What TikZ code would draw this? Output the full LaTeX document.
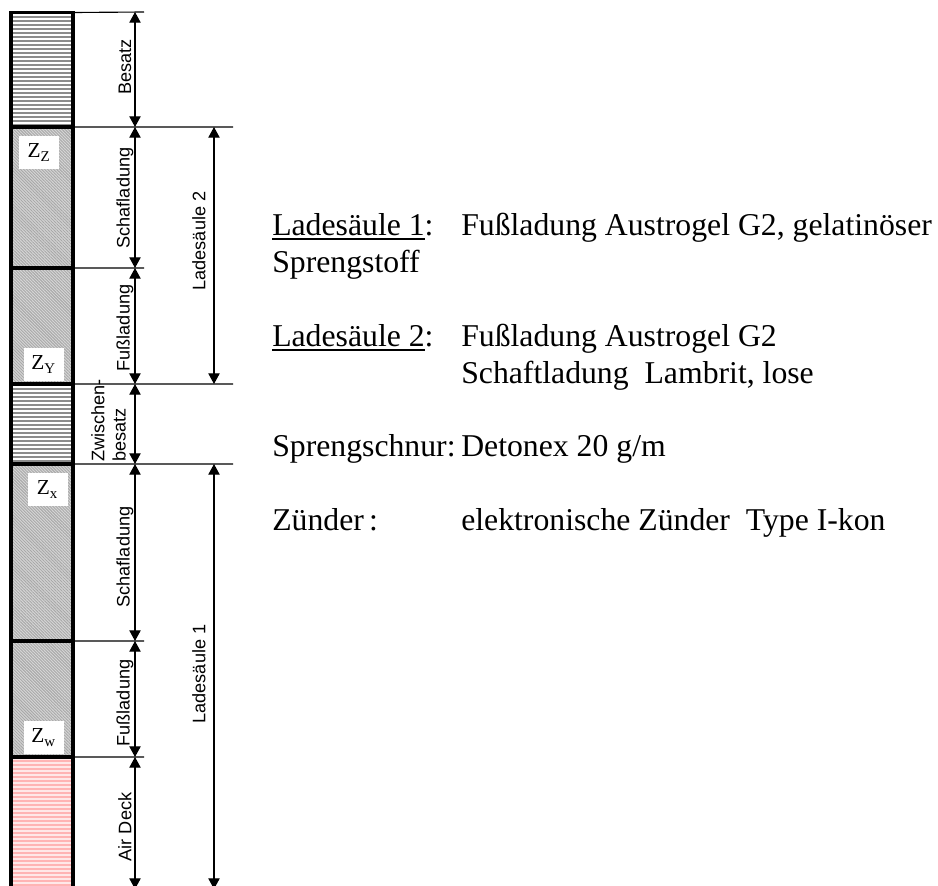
\documentclass[tikz,border=0pt]{standalone}
\usepackage{fontspec}
\setmainfont{Liberation Serif}
\setsansfont{Liberation Sans}
\usepackage{xcolor}
\usetikzlibrary{positioning, patterns.meta, arrows.meta}

\definecolor{stemgray}{gray}{0.55}
\definecolor{chargegray}{gray}{0.66}
\definecolor{chargelight}{gray}{0.84}
\definecolor{deckred}{RGB}{255,180,180}
\definecolor{decklight}{RGB}{255,232,232}

\newcommand{\legendline}[1]{\setbox0\hbox{#1}\rlap{\rule[-3.6pt]{\wd0}{1.4pt}}\box0}

\tikzset{
  segment/.style={draw, line width=2.4pt, rectangle, minimum width=46.5pt, outer sep=0pt, inner sep=0pt},
  stemming/.style={segment, pattern={Lines[angle=0, distance=3pt, line width=1.5pt]}, pattern color=stemgray},
  charge/.style={segment, preaction={fill=chargelight}, pattern={Lines[angle=-45, distance=1.6pt, line width=0.7pt]}, pattern color=chargegray},
  airdeck/.style={segment, preaction={fill=decklight}, pattern={Lines[angle=0, distance=3pt, line width=1.3pt]}, pattern color=deckred},
  detbox/.style={fill=white, inner sep=0pt, minimum width=30pt, minimum height=25pt, font=\fontsize{16}{18}\selectfont},
  extline/.style={line width=0.85pt},
  dim/.style={line width=0.85pt, {Triangle[length=8pt, width=8.5pt]}-{Triangle[length=8pt, width=8.5pt]}},
  dimlabel/.style={rotate=90, font=\sffamily\fontsize{13.6}{16}\selectfont, inner sep=0pt},
  legend/.style={anchor=base west, inner sep=0pt, font=\fontsize{23.8}{27}\selectfont}
}

\begin{document}
\begin{tikzpicture}[x=0.75pt, y=-0.75pt]
  \useasboundingbox (0,0) rectangle (938,885);

  \node[stemming, anchor=north west, minimum height=85.9pt] (besatz) at (11,12.5) {};
  \node[charge, below=0pt of besatz, minimum height=105.75pt] (schaftb) {};
  \node[charge, below=0pt of schaftb, minimum height=87pt] (fussb) {};
  \node[stemming, below=0pt of fussb, minimum height=60pt] (zwischen) {};
  \node[charge, below=0pt of zwischen, minimum height=132.75pt] (schafta) {};
  \node[charge, below=0pt of schafta, minimum height=87pt] (fussa) {};
  \node[airdeck, below=0pt of fussa, minimum height=100pt] (deck) {};

  \node[detbox] (zz) at (39,152.5) {Z\textsubscript{Z}};
  \node[detbox] (zy) at (43.5,364.5) {Z\textsubscript{Y}};
  \node[detbox] (zx) at (47.5,489.5) {Z\textsubscript{x}};
  \node[detbox] (zw) at (43.5,737.5) {Z\textsubscript{w}};

  % dimension ends
  \coordinate (e0) at (144,12);
  \coordinate (e1) at (233,127);
  \coordinate (e2) at (144,268);
  \coordinate (e3) at (233,384);
  \coordinate (e4) at (233,464);
  \coordinate (e5) at (144,641);
  \coordinate (e6) at (144,757);
  \coordinate (m0) at (135,12);
  \coordinate (m1) at (135,127);
  \coordinate (m2) at (135,268);
  \coordinate (m3) at (135,384);
  \coordinate (m4) at (135,464);
  \coordinate (m5) at (135,641);
  \coordinate (m6) at (135,757);
  \coordinate (m7) at (135,889);
  \coordinate (l1) at (214,127);
  \coordinate (l3) at (214,384);
  \coordinate (l4) at (214,464);
  \coordinate (l7) at (214,889);

  \draw[extline] (besatz.north east) -- (e0);
  \draw[extline] (besatz.south east) -- (e1);
  \draw[extline] (schaftb.south east) -- (e2);
  \draw[extline] (fussb.south east) -- (e3);
  \draw[extline] (zwischen.south east) -- (e4);
  \draw[extline] (schafta.south east) -- (e5);
  \draw[extline] (fussa.south east) -- (e6);

  \draw[dim] (m0) -- (m1);
  \draw[dim] (m1) -- (m2);
  \draw[dim] (m2) -- (m3);
  \draw[dim] (m3) -- (m4);
  \draw[dim] (m4) -- (m5);
  \draw[dim] (m5) -- (m6);
  \draw[dim] (m6) -- (m7);
  \draw[dim] (l1) -- (l3);
  \draw[dim] (l4) -- (l7);

  \node[dimlabel] (lbesatz) at (125,67) {Besatz};
  \node[dimlabel] (lschaftb) at (125,198) {Schafladung};
  \node[dimlabel] (lfussb) at (125,328) {Fußladung};
  \node[dimlabel, align=left, anchor=west] (lzwischen) at (108.5,462) {Zwischen-\\besatz};
  \node[dimlabel] (lschafta) at (125,557) {Schafladung};
  \node[dimlabel] (lfussa) at (125,703) {Fußladung};
  \node[dimlabel] (ldeck) at (125,827) {Air Deck};
  \node[dimlabel] (lsaeule2) at (199,241) {Ladesäule 2};
  \node[dimlabel] (lsaeule1) at (199,674) {Ladesäule 1};

  \node[legend] (t1) at (272,235.5) {\legendline{Ladesäule 1}:};
  \node[legend] (t1a) at (461,235.5) {Fußladung Austrogel G2, gelatinöser};
  \node[legend] (t1b) at (272,272) {Sprengstoff};
  \node[legend] (t2) at (272,346) {\legendline{Ladesäule 2}:};
  \node[legend] (t2a) at (461,346) {Fußladung Austrogel G2};
  \node[legend] (t2b) at (461,383) {Schaftladung\ \ Lambrit, lose};
  \node[legend] (t3) at (272,456) {Sprengschnur:};
  \node[legend] (t3a) at (461,456) {Detonex 20 g/m};
  \node[legend] (t4) at (272,530) {Zünder\,:};
  \node[legend] (t4a) at (461,530) {elektronische Zünder\ \ Type I-kon};
\end{tikzpicture}
\end{document}
